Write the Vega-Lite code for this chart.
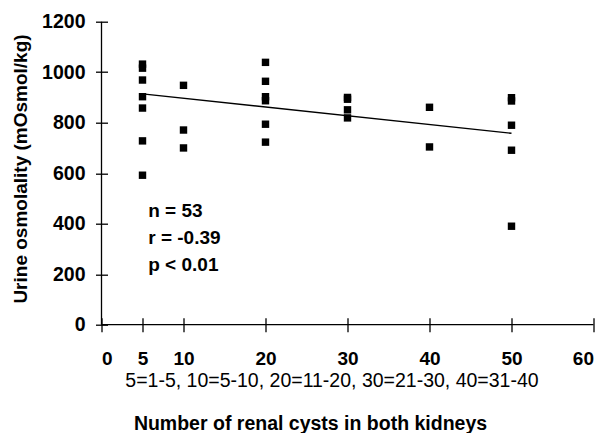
{
  "$schema": "https://vega.github.io/schema/vega-lite/v6.json",
  "autosize": {"type": "none"},
  "width": 492,
  "height": 303,
  "padding": {"left": 101.5, "top": 21.7, "right": 9.5, "bottom": 108.3},
  "background": "white",
  "config": {
    "view": {"stroke": null},
    "font": "Liberation Sans",
    "axis": {
      "grid": false,
      "domain": false,
      "labelFont": "Liberation Sans",
      "labelFontWeight": "bold",
      "labelFontSize": 19,
      "labelColor": "black",
      "tickColor": "black",
      "tickWidth": 1.3,
      "titleFont": "Liberation Sans",
      "titleColor": "black",
      "titleFontSize": 19
    }
  },
  "title": {
    "text": "Number of renal cysts in both kidneys",
    "orient": "bottom",
    "anchor": "middle",
    "frame": "group",
    "dx": -37,
    "offset": 25,
    "font": "Liberation Sans",
    "fontSize": 19.5,
    "fontWeight": "bold",
    "color": "black"
  },
  "datasets": {
    "points": [
      {"cysts": 5, "osm": 1032}, {"cysts": 5, "osm": 1016}, {"cysts": 5, "osm": 969}, {"cysts": 5, "osm": 903},
      {"cysts": 5, "osm": 858}, {"cysts": 5, "osm": 728}, {"cysts": 5, "osm": 592},
      {"cysts": 10, "osm": 948}, {"cysts": 10, "osm": 771}, {"cysts": 10, "osm": 700},
      {"cysts": 20, "osm": 1039}, {"cysts": 20, "osm": 964}, {"cysts": 20, "osm": 903}, {"cysts": 20, "osm": 887},
      {"cysts": 20, "osm": 794}, {"cysts": 20, "osm": 723},
      {"cysts": 30, "osm": 900}, {"cysts": 30, "osm": 893}, {"cysts": 30, "osm": 851}, {"cysts": 30, "osm": 819},
      {"cysts": 40, "osm": 861}, {"cysts": 40, "osm": 704},
      {"cysts": 50, "osm": 899}, {"cysts": 50, "osm": 886}, {"cysts": 50, "osm": 790}, {"cysts": 50, "osm": 691},
      {"cysts": 50, "osm": 390}
    ],
    "fit": [{"cysts": 5, "osm": 914}, {"cysts": 50, "osm": 758}],
    "notes": [
      {"cysts": 5.7, "osm": 452, "label": "n = 53"},
      {"cysts": 5.7, "osm": 343, "label": "r = -0.39"},
      {"cysts": 5.7, "osm": 237, "label": "p < 0.01"}
    ],
    "axes": [{"zero": 0}]
  },
  "layer": [
    {
      "data": {"name": "axes"},
      "mark": {"type": "rule", "color": "black", "strokeWidth": 1.3},
      "encoding": {"y": {"field": "zero", "type": "quantitative"}}
    },
    {
      "data": {"name": "axes"},
      "mark": {"type": "rule", "color": "black", "strokeWidth": 1.3},
      "encoding": {"x": {"field": "zero", "type": "quantitative"}}
    },
    {
      "data": {"name": "fit"},
      "mark": {"type": "line", "color": "black", "strokeWidth": 1.4},
      "encoding": {
        "x": {"field": "cysts", "type": "quantitative"},
        "y": {"field": "osm", "type": "quantitative"}
      }
    },
    {
      "data": {"name": "points"},
      "mark": {"type": "point", "shape": "square", "filled": true, "color": "black", "size": 55, "opacity": 1},
      "encoding": {
        "x": {
          "field": "cysts", "type": "quantitative",
          "scale": {"domain": [0, 60], "nice": false, "zero": true},
          "axis": {
            "values": [0, 5, 10, 20, 30, 40, 50, 60],
            "offset": -7,
            "tickSize": 14,
            "labelPadding": 18,
            "title": "5=1-5, 10=5-10, 20=11-20, 30=21-30, 40=31-40",
            "titleFontWeight": "normal",
            "titleFontSize": 19.5,
            "titleX": 230,
            "titleY": 68.7,
            "titleBaseline": "alphabetic",
            "titleAnchor": "middle",
            "titleAlign": "center"
          }
        },
        "y": {
          "field": "osm", "type": "quantitative",
          "scale": {"domain": [0, 1200], "nice": false},
          "axis": {
            "values": [0, 200, 400, 600, 800, 1000, 1200],
            "format": "d",
            "offset": -6,
            "tickSize": 12,
            "labelPadding": 10.5,
            "labelFontSize": 19.5,
            "title": "Urine osmolality (mOsmol/kg)",
            "titleFontWeight": "bold",
            "titleX": -81.5,
            "titleY": 146.8,
            "titleAngle": -90,
            "titleBaseline": "alphabetic",
            "titleAlign": "center"
          }
        }
      }
    },
    {
      "data": {"name": "notes"},
      "mark": {"type": "text", "align": "left", "baseline": "middle", "font": "Liberation Sans", "fontSize": 19, "fontWeight": "bold", "color": "black"},
      "encoding": {
        "x": {"field": "cysts", "type": "quantitative"},
        "y": {"field": "osm", "type": "quantitative"},
        "text": {"field": "label"}
      }
    }
  ]
}
